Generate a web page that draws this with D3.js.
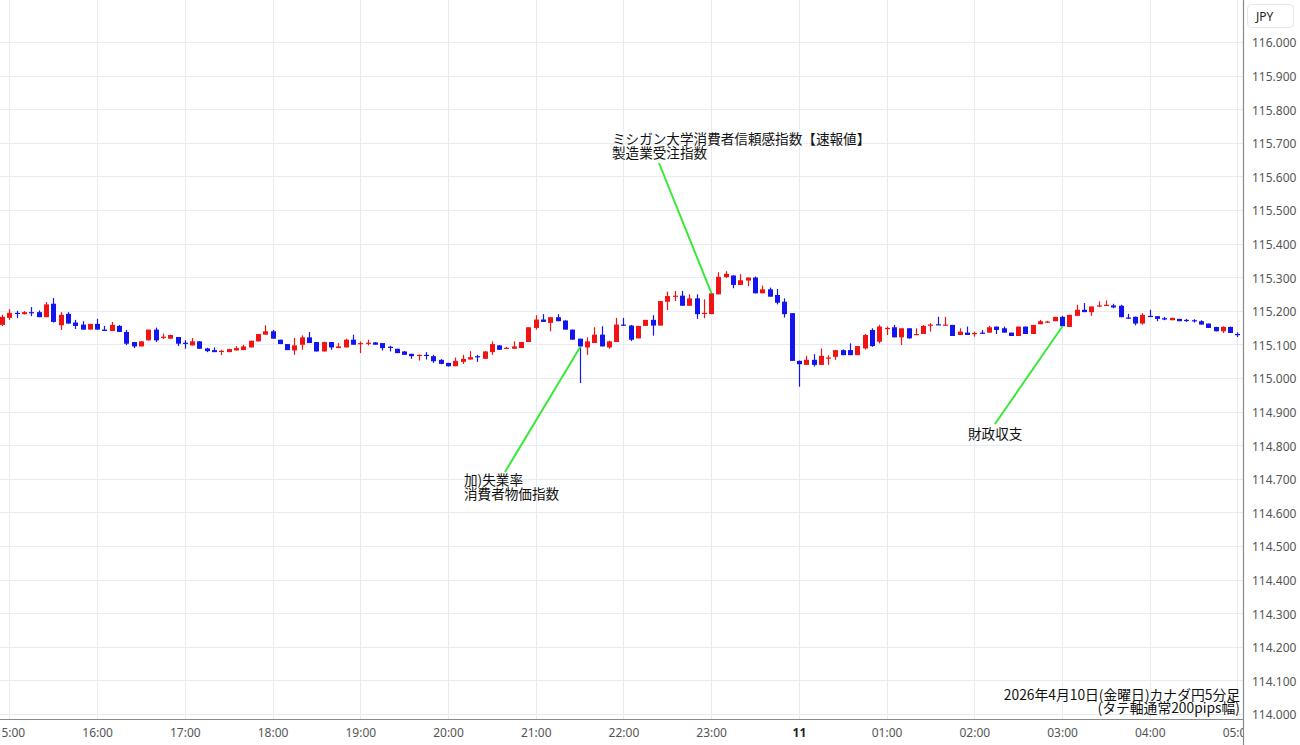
<!DOCTYPE html>
<html><head><meta charset="utf-8">
<script src="https://cdn.jsdelivr.net/npm/d3@7/dist/d3.min.js"></script>
<style>
html,body{margin:0;padding:0;background:#fff;}
svg{display:block;}
</style></head>
<body>
<svg id="chart" width="1300" height="745"></svg>
<script>
// ---------- data ----------
const startTime = "2026-04-10 14:55";   // first 5-minute candle
const opens = [
115.158,115.179,115.194,115.190,115.196,115.196,115.181,115.221,115.157,115.191,
115.165,115.159,115.144,115.161,115.144,115.140,115.155,115.137,115.107,115.094,
115.112,115.144,115.121,115.117,115.122,115.105,115.097,115.109,115.088,115.083,
115.079,115.077,115.082,115.083,115.091,115.109,115.129,115.139,115.114,115.101,
115.082,115.099,115.121,115.107,115.079,115.107,115.089,115.091,115.114,115.102,
115.103,115.106,115.104,115.093,115.087,115.079,115.072,115.068,115.069,115.065,
115.054,115.045,115.035,115.048,115.055,115.065,115.057,115.077,115.097,115.088,
115.087,115.089,115.107,115.149,115.174,115.164,115.181,115.171,115.144,115.117,
115.091,115.104,115.129,115.091,115.107,115.159,115.156,115.118,115.155,115.173,
115.156,115.227,115.243,115.245,115.215,115.237,115.192,115.190,115.249,115.300,
115.305,115.277,115.290,115.299,115.252,115.264,115.247,115.227,115.193,115.051,
115.039,115.054,115.039,115.059,115.063,115.083,115.083,115.068,115.088,115.143,
115.108,115.147,115.151,115.121,115.148,115.128,115.131,115.157,115.160,115.157,
115.158,115.128,115.135,115.132,115.135,115.135,115.153,115.148,115.135,115.125,
115.153,115.131,115.160,115.166,115.169,115.182,115.152,115.185,115.203,115.196,
115.214,115.216,115.216,115.215,115.180,115.182,115.162,115.185,115.184,115.178,
115.172,115.176,115.173,115.172,115.169,115.162,115.152,115.139,115.152,115.131,
115.128];
const highs = [
115.188,115.205,115.200,115.199,115.211,115.201,115.226,115.238,115.196,115.196,
115.173,115.169,115.161,115.176,115.155,115.167,115.158,115.143,115.107,115.110,
115.144,115.150,115.132,115.129,115.122,115.113,115.119,115.110,115.090,115.091,
115.084,115.087,115.095,115.099,115.111,115.131,115.157,115.143,115.114,115.101,
115.119,115.127,115.137,115.107,115.108,115.107,115.104,115.117,115.129,115.109,
115.114,115.107,115.104,115.096,115.087,115.080,115.072,115.070,115.077,115.069,
115.056,115.045,115.061,115.069,115.080,115.069,115.080,115.109,115.098,115.093,
115.109,115.108,115.151,115.187,115.190,115.182,115.190,115.172,115.144,115.117,
115.121,115.151,115.154,115.111,115.179,115.179,115.158,115.155,115.173,115.187,
115.229,115.257,115.259,115.259,115.249,115.249,115.234,115.252,115.315,115.318,
115.306,115.309,115.299,115.302,115.275,115.269,115.265,115.237,115.193,115.052,
115.066,115.071,115.088,115.068,115.084,115.085,115.103,115.095,115.131,115.148,
115.158,115.153,115.158,115.148,115.148,115.148,115.158,115.163,115.182,115.182,
115.158,115.148,115.153,115.138,115.143,115.155,115.153,115.153,115.135,115.153,
115.153,115.158,115.173,115.170,115.182,115.185,115.188,115.218,115.223,115.213,
115.228,115.231,115.221,115.218,115.191,115.183,115.193,115.203,115.184,115.182,
115.179,115.176,115.176,115.175,115.172,115.162,115.152,115.154,115.153,115.136,
115.130];
const lows = [
115.155,115.173,115.178,115.189,115.184,115.181,115.181,115.165,115.143,115.162,
115.146,115.144,115.144,115.144,115.140,115.140,115.137,115.098,115.089,115.094,
115.112,115.107,115.116,115.117,115.095,115.087,115.097,115.087,115.077,115.077,
115.068,115.077,115.082,115.083,115.091,115.109,115.129,115.117,115.101,115.083,
115.069,115.084,115.104,115.079,115.079,115.084,115.089,115.091,115.099,115.074,
115.097,115.099,115.082,115.079,115.074,115.069,115.057,115.052,115.055,115.045,
115.041,115.034,115.035,115.042,115.055,115.048,115.057,115.069,115.084,115.087,
115.087,115.089,115.107,115.144,115.167,115.139,115.169,115.144,115.114,114.985,
115.069,115.104,115.094,115.087,115.107,115.155,115.110,115.118,115.155,115.126,
115.156,115.202,115.229,115.215,115.215,115.176,115.178,115.190,115.249,115.298,
115.267,115.277,115.273,115.252,115.252,115.242,115.219,115.180,115.051,114.974,
115.039,115.034,115.039,115.039,115.054,115.068,115.068,115.068,115.085,115.093,
115.103,115.128,115.121,115.098,115.117,115.128,115.131,115.138,115.158,115.157,
115.125,115.128,115.128,115.123,115.131,115.135,115.131,115.135,115.125,115.125,
115.131,115.131,115.160,115.164,115.169,115.154,115.152,115.185,115.196,115.185,
115.211,115.214,115.208,115.181,115.176,115.157,115.159,115.181,115.169,115.172,
115.172,115.169,115.167,115.165,115.159,115.149,115.139,115.134,115.134,115.122,
115.118];
const closes = [
115.182,115.194,115.191,115.196,115.193,115.181,115.219,115.167,115.188,115.162,
115.155,115.144,115.161,115.144,115.140,115.158,115.137,115.102,115.094,115.109,
115.144,115.112,115.123,115.128,115.102,115.102,115.109,115.087,115.080,115.077,
115.081,115.086,115.089,115.094,115.111,115.131,115.139,115.117,115.101,115.083,
115.097,115.121,115.104,115.079,115.107,115.091,115.094,115.114,115.099,115.104,
115.105,115.099,115.089,115.091,115.074,115.069,115.065,115.069,115.067,115.050,
115.042,115.035,115.051,115.057,115.062,115.062,115.079,115.101,115.084,115.090,
115.094,115.107,115.151,115.174,115.167,115.181,115.169,115.144,115.114,115.094,
115.109,115.129,115.094,115.109,115.159,115.156,115.114,115.155,115.173,115.156,
115.229,115.244,115.245,115.215,115.237,115.190,115.194,115.252,115.301,115.310,
115.277,115.291,115.299,115.252,115.264,115.242,115.224,115.190,115.051,115.041,
115.054,115.039,115.066,115.061,115.083,115.068,115.068,115.095,115.128,115.095,
115.153,115.149,115.121,115.148,115.118,115.131,115.155,115.159,115.158,115.159,
115.125,115.138,115.128,115.134,115.133,115.151,115.143,115.135,115.125,115.153,
115.131,115.158,115.169,115.168,115.182,115.154,115.188,115.203,115.196,115.213,
115.216,115.218,115.210,115.181,115.178,115.162,115.188,115.183,115.176,115.174,
115.179,115.169,115.171,115.170,115.159,115.149,115.139,115.152,115.134,115.129,
115.122];
const yTicks = [114.0,114.1,114.2,114.3,114.4,114.5,114.6,114.7,114.8,114.9,115.0,
                115.1,115.2,115.3,115.4,115.5,115.6,115.7,115.8,115.9,116.0];
const xDomain = ["2026-04-10 15:00", "2026-04-11 05:00"];
// annotations: [candle index, text lines]
const events = [
  {idx: 79,  lines: ["加)失業率", "消費者物価指数"]},
  {idx: 97,  lines: ["ミシガン大学消費者信頼感指数【速報値】", "製造業受注指数"]},
  {idx: 145, lines: ["財政収支"]}
];
const captionLines = ["2026年4月10日(金曜日)カナダ円5分足", "(タテ軸通常200pips幅)"];
const currency = "JPY";

// ---------- layout ----------
const W = 1300, H = 745;
const plotR = 1243, plotB = 719;
const parse = d3.timeParse("%Y-%m-%d %H:%M");
const t0 = parse(startTime);
const candles = opens.map((o, i) => ({
  t: d3.timeMinute.offset(t0, 5 * i), o, h: highs[i], l: lows[i], c: closes[i]
}));

const x = d3.scaleTime().domain(xDomain.map(parse)).range([9.4, 9.4 + 14 * 87.72]);
const y = d3.scaleLinear().domain([114, 116]).range([714, 42]);

const svg = d3.select("#chart");
svg.append("rect").attr("width", W).attr("height", H).attr("fill", "#fff");

const defs = svg.append("defs");
defs.append("clipPath").attr("id", "plotClip").append("rect")
  .attr("x", 0).attr("y", 0).attr("width", plotR).attr("height", plotB);
defs.append("clipPath").attr("id", "xClip").append("rect")
  .attr("x", 0).attr("y", plotB).attr("width", plotR).attr("height", H - plotB);
defs.append("clipPath").attr("id", "yClip").append("rect")
  .attr("x", plotR).attr("y", 0).attr("width", W - plotR).attr("height", plotB);

const plot = svg.append("g").attr("clip-path", "url(#plotClip)");

// grid
const gridColor = "#e6ecf1";
plot.append("g").selectAll("line").data(yTicks).join("line")
  .attr("x1", 0).attr("x2", plotR)
  .attr("y1", d => Math.round(y(d)) + 0.5).attr("y2", d => Math.round(y(d)) + 0.5)
  .attr("stroke", gridColor).attr("stroke-width", 1);
const hourTicks = x.ticks(d3.timeHour.every(1));
plot.append("g").selectAll("line").data(hourTicks).join("line")
  .attr("x1", d => Math.round(x(d)) + 0.5).attr("x2", d => Math.round(x(d)) + 0.5)
  .attr("y1", 0).attr("y2", plotB)
  .attr("stroke", gridColor).attr("stroke-width", 1);

// candles
const RED = "#f21414", BLUE = "#1414f0";
const bw = 5;
const cg = plot.append("g");
const col = d => d.c >= d.o ? RED : BLUE;
cg.selectAll("line.wick").data(candles).join("line").attr("class", "wick")
  .attr("x1", d => Math.round(x(d.t)) + 0.5).attr("x2", d => Math.round(x(d.t)) + 0.5)
  .attr("y1", d => y(d.h)).attr("y2", d => y(d.l))
  .attr("stroke", col).attr("stroke-width", 1.2);
cg.selectAll("rect.body").data(candles).join("rect").attr("class", "body")
  .attr("x", d => Math.round(x(d.t)) + 0.5 - bw / 2)
  .attr("width", bw)
  .attr("y", d => y(Math.max(d.o, d.c)))
  .attr("height", d => Math.max(1.2, Math.abs(y(d.o) - y(d.c))))
  .attr("fill", col);

// annotations
const anchors = [
  {tx: 464, ty: 485, lx: 505, ly: 472},
  {tx: 612, ty: 144, lx: 659, ly: 163},
  {tx: 968, ty: 439, lx: 995, ly: 424}
];
const ag = plot.append("g");
events.forEach((ev, k) => {
  const a = anchors[k], d = candles[ev.idx];
  ag.append("line")
    .attr("x1", a.lx).attr("y1", a.ly)
    .attr("x2", Math.round(x(d.t)) + 0.5).attr("y2", y(d.c))
    .attr("stroke", "#3ae83a").attr("stroke-width", 2);
  const tx = ag.append("text")
    .attr("font-family", "'Noto Sans CJK JP', sans-serif")
    .attr("font-size", 13.6).attr("fill", "#111");
  ev.lines.forEach((s, j) => tx.append("tspan").attr("x", a.tx).attr("y", a.ty + j * 14).text(s));
});

// caption
const cap = svg.append("text")
  .attr("font-family", "'Noto Sans CJK JP', sans-serif")
  .attr("font-size", 13.8).attr("fill", "#111").attr("text-anchor", "end");
captionLines.forEach((s, j) => cap.append("tspan").attr("x", 1240).attr("y", 699.5 + j * 13).text(s));

// x axis labels (outer group clips, inner group positions)
const xOuter = svg.append("g").attr("clip-path", "url(#xClip)");
const xg = xOuter.append("g").attr("transform", `translate(0,${plotB})`);
const xAxis = d3.axisBottom(x).ticks(d3.timeHour.every(1)).tickSize(0).tickPadding(0)
  .tickFormat(d => d.getHours() === 0 ? d3.timeFormat("%-d")(d) : d3.timeFormat("%H:%M")(d));
xg.call(xAxis);
xg.select(".domain").remove();
xg.selectAll("text")
  .attr("y", 18).attr("dy", 0)
  .attr("font-family", "'Noto Sans', sans-serif").attr("font-size", 12)
  .attr("fill", d => d.getHours() === 0 ? "#222" : "#555")
  .attr("font-weight", d => d.getHours() === 0 ? "bold" : "normal");

// y axis labels
const yOuter = svg.append("g").attr("clip-path", "url(#yClip)");
const yg = yOuter.append("g").attr("transform", "translate(1252,0)");
const yAxis = d3.axisRight(y).tickValues(yTicks).tickSize(0).tickPadding(0).tickFormat(d3.format(".3f"));
yg.call(yAxis);
yg.select(".domain").remove();
yg.selectAll("text")
  .attr("x", 0).attr("dy", "0.4em")
  .attr("font-family", "'Noto Sans', sans-serif").attr("font-size", 12)
  .attr("fill", "#555");

// axis frame lines
svg.append("line").attr("x1", 0).attr("x2", plotR).attr("y1", plotB + 0.5).attr("y2", plotB + 0.5)
  .attr("stroke", "#8a8a8a").attr("stroke-width", 1.2);
svg.append("line").attr("x1", plotR + 0.5).attr("x2", plotR + 0.5).attr("y1", 0).attr("y2", H)
  .attr("stroke", "#8a8a8a").attr("stroke-width", 1.2);

// currency box
svg.append("rect").attr("x", 1247.5).attr("y", 4.5).attr("width", 46).attr("height", 23).attr("rx", 4)
  .attr("fill", "#fff").attr("stroke", "#e6e6e6");
svg.append("text").attr("x", 1256).attr("y", 20.5)
  .attr("font-family", "'Noto Sans', sans-serif").attr("font-size", 12).attr("fill", "#222")
  .text(currency);
</script>
</body></html>
